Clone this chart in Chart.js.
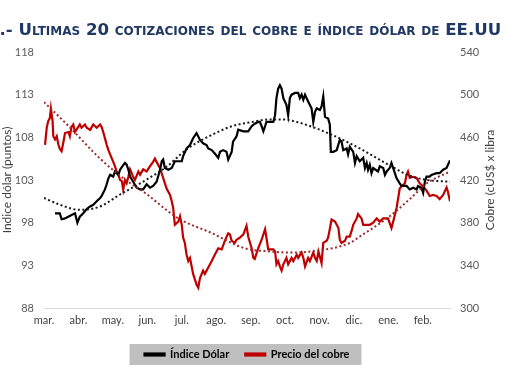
<!DOCTYPE html>
<html>
<head>
<meta charset="utf-8">
<script src="https://cdn.jsdelivr.net/npm/chart.js@4"></script>
<style>
  html, body { margin: 0; padding: 0; background: #fff; }
  #wrap { position: relative; width: 510px; height: 382px; overflow: hidden; }
  #canvas { position: absolute; left: 0; top: 0; }
  #titulo {
    position: absolute; left: -12px; top: 20px; white-space: nowrap;
    font: bold 16.6px "DejaVu Sans"; font-variant: small-caps; color: #1f3864;
  }
</style>
</head>
<body>
<div id="wrap">
  <canvas id="canvas" width="510" height="382"></canvas>
  <div id="titulo">1.- Ultimas 20 cotizaciones del cobre e índice dólar de EE.UU</div>
</div>
<script>
const months = ["mar.", "abr.", "may.", "jun.", "jul.", "ago.", "sep.", "oct.", "nov.", "dic.", "ene.", "feb."];
const dolarTicks = [88, 93, 98, 103, 108, 113, 118];
const cobreTicks = [300, 340, 380, 420, 460, 500, 540];
const tituloDolar = "Indice dólar (puntos)";
const tituloCobre = "Cobre (cUS$ x libra";

// x = months since start of march
const dolarX = [0.32, 0.46, 0.51, 0.61, 0.80, 0.90, 0.97, 1.04, 1.14, 1.24, 1.34, 1.43, 1.53, 1.63, 1.67, 1.77, 1.82, 1.87, 1.92, 2.01,
  2.06, 2.16, 2.21, 2.26, 2.35, 2.40, 2.45, 2.50, 2.59, 2.69, 2.79, 2.88, 2.98, 3.08, 3.17, 3.27, 3.37, 3.42, 3.46, 3.51,
  3.61, 3.71, 3.80, 3.90, 4.00, 4.04, 4.14, 4.24, 4.33, 4.43, 4.53, 4.62, 4.72, 4.77, 4.87, 4.96, 5.06, 5.11, 5.20, 5.30,
  5.35, 5.45, 5.49, 5.59, 5.64, 5.79, 5.93, 6.03, 6.12, 6.22, 6.27, 6.32, 6.37, 6.42, 6.46, 6.66, 6.71, 6.75, 6.80, 6.85,
  6.90, 6.95, 7.04, 7.09, 7.14, 7.19, 7.29, 7.38, 7.43, 7.48, 7.53, 7.58, 7.67, 7.72, 7.77, 7.82, 7.87, 7.92, 8.01, 8.06,
  8.11, 8.16, 8.25, 8.30, 8.33, 8.40, 8.50, 8.59, 8.64, 8.69, 8.79, 8.83, 8.88, 8.98, 9.03, 9.08, 9.17, 9.27, 9.32, 9.37,
  9.41, 9.46, 9.51, 9.56, 9.70, 9.75, 9.85, 9.90, 9.95, 10.04, 10.09, 10.14, 10.24, 10.33, 10.38, 10.53, 10.62, 10.72, 10.82, 10.86,
  10.96, 11.01, 11.06, 11.11, 11.20, 11.25, 11.40, 11.49, 11.59, 11.69, 11.79];
const dolarY = [99.1, 99.1, 98.4, 98.5, 98.9, 99.1, 98.0, 98.7, 99.1, 99.6, 99.9, 100.1, 100.5, 100.9, 101.1, 101.9, 102.5, 103.2, 103.6, 103.4,
  104.0, 103.6, 104.2, 104.5, 105.0, 104.8, 104.2, 103.4, 102.8, 102.1, 101.9, 101.9, 102.5, 102.1, 102.3, 102.8, 104.2, 105.2, 105.4, 104.4,
  104.2, 104.4, 105.2, 105.2, 105.2, 105.8, 106.7, 107.1, 107.9, 108.5, 107.7, 107.3, 107.1, 106.7, 106.5, 106.1, 105.6, 106.3, 106.5, 106.3,
  105.4, 106.3, 107.5, 108.1, 108.9, 108.7, 108.7, 109.3, 109.6, 109.8, 109.8, 109.3, 108.7, 109.3, 109.8, 109.8, 110.6, 112.6, 113.7, 114.1,
  113.7, 112.6, 111.8, 110.6, 112.6, 113.0, 113.2, 113.2, 112.6, 113.0, 112.4, 113.0, 112.2, 111.8, 111.4, 109.8, 111.0, 111.4, 111.2, 111.6,
  112.8, 110.4, 110.2, 109.5, 106.3, 106.3, 106.5, 107.7, 107.5, 106.5, 106.7, 106.0, 106.9, 106.3, 105.0, 105.8, 105.2, 105.6, 104.4, 105.0,
  104.2, 104.8, 103.8, 104.4, 104.0, 104.6, 104.4, 103.6, 104.0, 104.4, 105.0, 104.4, 103.2, 102.6, 102.3, 102.3, 101.9, 102.1, 101.9, 102.3,
  102.1, 101.5, 102.8, 103.4, 103.4, 103.6, 103.8, 103.8, 104.2, 104.4, 105.3];

const cobreX = [0.03, 0.08, 0.12, 0.17, 0.20, 0.25, 0.27, 0.32, 0.37, 0.42, 0.46, 0.51, 0.56, 0.61, 0.71, 0.75, 0.80, 0.85, 0.90, 1.00,
  1.04, 1.09, 1.19, 1.24, 1.34, 1.43, 1.53, 1.63, 1.67, 1.72, 1.77, 1.82, 1.87, 1.92, 2.01, 2.06, 2.11, 2.16, 2.21, 2.26,
  2.30, 2.35, 2.40, 2.45, 2.50, 2.59, 2.64, 2.74, 2.79, 2.88, 2.98, 3.08, 3.17, 3.22, 3.27, 3.37, 3.46, 3.56, 3.66, 3.71,
  3.75, 3.80, 3.90, 3.95, 4.00, 4.04, 4.09, 4.14, 4.19, 4.24, 4.33, 4.43, 4.48, 4.53, 4.62, 4.67, 4.77, 4.87, 4.96, 5.06,
  5.16, 5.25, 5.35, 5.40, 5.45, 5.54, 5.59, 5.69, 5.79, 5.88, 5.93, 6.03, 6.08, 6.12, 6.22, 6.32, 6.42, 6.46, 6.51, 6.66,
  6.71, 6.75, 6.80, 6.85, 6.90, 6.95, 7.04, 7.09, 7.19, 7.24, 7.34, 7.38, 7.48, 7.53, 7.58, 7.67, 7.72, 7.82, 7.87, 7.92,
  7.97, 8.06, 8.11, 8.21, 8.25, 8.30, 8.35, 8.45, 8.55, 8.59, 8.64, 8.74, 8.79, 8.88, 8.93, 8.98, 9.08, 9.12, 9.22, 9.27,
  9.37, 9.46, 9.56, 9.66, 9.75, 9.85, 9.99, 10.09, 10.14, 10.24, 10.33, 10.38, 10.48, 10.53, 10.57, 10.62, 10.72, 10.82, 10.91, 11.01,
  11.11, 11.20, 11.30, 11.40, 11.49, 11.59, 11.69, 11.73, 11.79];
const cobreY = [453, 469, 475, 478, 487, 475, 461, 458, 461, 453, 449, 447, 455, 464, 465, 461, 470, 472, 465, 470,
  472, 469, 472, 469, 467, 472, 469, 472, 470, 465, 459, 453, 448, 444, 437, 433, 428, 425, 420, 419,
  411, 420, 417, 423, 430, 423, 420, 428, 425, 430, 428, 433, 437, 440, 437, 431, 422, 412, 406, 400,
  394, 378, 381, 386, 378, 366, 361, 350, 344, 347, 332, 322, 319, 328, 335, 332, 338, 344, 350, 356,
  355, 363, 370, 369, 363, 361, 364, 366, 369, 377, 367, 356, 347, 346, 356, 364, 374, 366, 355, 355,
  353, 341, 344, 339, 335, 341, 347, 341, 347, 344, 350, 347, 352, 347, 339, 347, 344, 352, 347, 344,
  353, 342, 361, 363, 366, 374, 383, 381, 375, 364, 361, 363, 367, 367, 372, 378, 384, 388, 384, 378,
  378, 378, 380, 384, 381, 384, 384, 375, 381, 394, 412, 414, 417, 425, 428, 422, 423, 422, 417, 414,
  410, 405, 406, 405, 402, 406, 413, 409, 400];

// trend lines (dotted)
const tendDolarX = [0.00, 0.46, 1.04, 1.63, 2.21, 2.79, 3.08, 3.51, 4.18, 4.88, 5.46, 6.04, 6.56, 6.94, 7.43, 8.30, 9.17, 10.13, 10.62, 11.12, 11.79];
const tendDolarY = [100.9, 100.1, 99.5, 99.9, 101.3, 102.6, 103.3, 104.4, 106.7, 108.3, 109.3, 109.8, 110.1, 110.1, 109.7, 108.4, 106.7, 104.5, 103.5, 103.0, 102.8];
const tendCobreX = [0.00, 0.67, 1.63, 2.29, 2.93, 3.90, 4.82, 5.83, 6.56, 7.14, 8.01, 8.88, 9.17, 10.04, 10.62, 11.12, 11.79];
const tendCobreY = [493, 472, 440, 422, 408, 384, 371, 356, 353, 352, 354, 361, 367, 386, 402, 417, 428];

const pares = (xs, ys) => xs.map((x, i) => ({ x: x, y: ys[i] }));

const fondoLeyenda = {
  id: "fondoLeyenda",
  beforeDraw: (chart) => {
    const boxes = chart.legend && chart.legend.legendHitBoxes;
    if (!boxes || !boxes.length) return;
    const x0 = Math.min(...boxes.map(b => b.left)) - 15;
    const x1 = Math.max(...boxes.map(b => b.left + b.width)) + 12;
    const y0 = boxes[0].top - 5;
    const y1 = boxes[0].top + boxes[0].height + 5;
    const ctx = chart.ctx;
    ctx.save();
    ctx.fillStyle = "#bfbfbf";
    ctx.fillRect(x0, y0, x1 - x0, y1 - y0);
    ctx.restore();
  },
  afterDraw: (chart) => {
    // right axis title reads bottom to top, like the left one
    const ctx = chart.ctx;
    const a = chart.chartArea;
    ctx.save();
    ctx.translate(490, (a.top + a.bottom) / 2);
    ctx.rotate(-Math.PI / 2);
    ctx.textAlign = "center";
    ctx.textBaseline = "middle";
    ctx.font = "12px Lato";
    ctx.fillStyle = "#404040";
    ctx.fillText(tituloCobre, 0, 0);
    ctx.restore();
  }
};

const tickFont = { family: "Lato", size: 11 };

new Chart(document.getElementById("canvas").getContext("2d"), {
  type: "line",
  data: {
    datasets: [
      {
        label: "Índice Dólar",
        data: pares(dolarX, dolarY),
        yAxisID: "y",
        borderColor: "#000000",
        backgroundColor: "#000000",
        borderWidth: 2.2,
        pointRadius: 0,
        tension: 0,
        order: 1
      },
      {
        label: "Precio del cobre",
        data: pares(cobreX, cobreY),
        yAxisID: "y1",
        borderColor: "#c00000",
        backgroundColor: "#c00000",
        borderWidth: 2.2,
        pointRadius: 0,
        tension: 0,
        order: 2
      },
      {
        label: "tendencia dólar",
        data: pares(tendDolarX, tendDolarY),
        yAxisID: "y",
        borderColor: "#1a1a1a",
        borderWidth: 2,
        borderDash: [2, 2.5],
        pointRadius: 0,
        cubicInterpolationMode: "monotone",
        order: 0
      },
      {
        label: "tendencia cobre",
        data: pares(tendCobreX, tendCobreY),
        yAxisID: "y1",
        borderColor: "#9c2a2a",
        borderWidth: 2,
        borderDash: [2, 2.5],
        pointRadius: 0,
        cubicInterpolationMode: "monotone",
        order: 0
      }
    ]
  },
  options: {
    responsive: false,
    animation: false,
    devicePixelRatio: 1,
    layout: { padding: { top: 52, bottom: 12, left: 0, right: 0 } },
    plugins: {
      title: { display: false },
      tooltip: { enabled: false },
      legend: {
        position: "bottom",
        fullSize: false,
        labels: {
          boxWidth: 20,
          boxHeight: 2,
          padding: 16,
          color: "#000000",
          font: { family: "Lato", size: 11, weight: "bold" },
          filter: (item) => item.datasetIndex < 2
        }
      }
    },
    scales: {
      x: {
        type: "linear",
        min: 0,
        max: 11.79,
        afterBuildTicks: (scale) => { scale.ticks = months.map((m, i) => ({ value: i })); },
        afterFit: (scale) => { scale.height = 25; },
        ticks: {
          autoSkip: false,
          maxRotation: 0,
          padding: 6,
          color: "#404040",
          font: tickFont,
          callback: (v) => months[v]
        },
        grid: { display: false, drawTicks: false },
        border: { display: true, color: "#d9d9d9", width: 1 }
      },
      y: {
        position: "left",
        min: 88,
        max: 118,
        afterBuildTicks: (scale) => { scale.ticks = dolarTicks.map(v => ({ value: v })); },
        afterFit: (scale) => { scale.width = 44; },
        ticks: { padding: 10, color: "#595959", font: tickFont },
        grid: { display: false, drawTicks: false },
        border: { display: false },
        title: {
          display: true,
          text: tituloDolar,
          color: "#404040",
          font: { family: "Lato", size: 12 },
          padding: { top: 0, bottom: 0 }
        }
      },
      y1: {
        position: "right",
        min: 300,
        max: 540,
        afterBuildTicks: (scale) => { scale.ticks = cobreTicks.map(v => ({ value: v })); },
        afterFit: (scale) => { scale.width = 60; },
        ticks: { padding: 10, color: "#595959", font: tickFont },
        grid: { display: false, drawTicks: false },
        border: { display: false }
      }
    }
  },
  plugins: [fondoLeyenda]
});
</script>
</body>
</html>
